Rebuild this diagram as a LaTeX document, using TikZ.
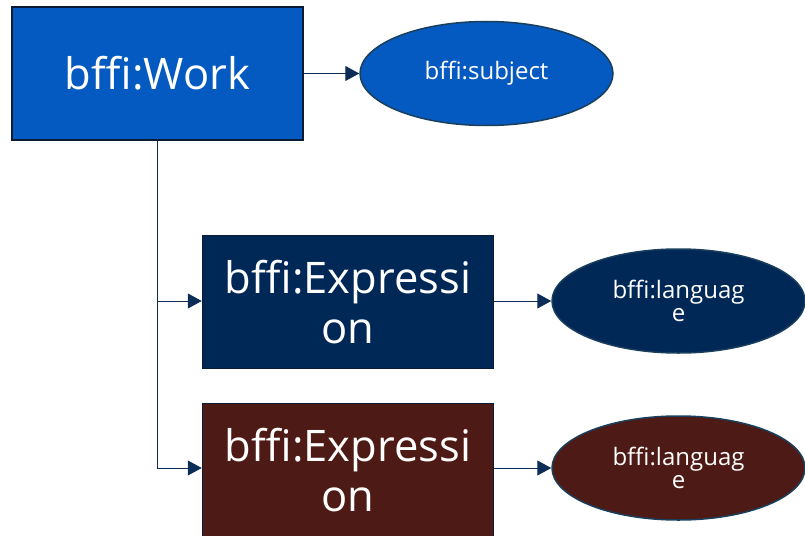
\documentclass[tikz,border=0pt]{standalone}
\usepackage{fontspec}
\setmainfont{Open Sans}
\usepackage{tikz}
\usetikzlibrary{arrows.meta}
\usetikzlibrary{shapes.geometric}

\definecolor{workblue}{HTML}{045AC0}
\definecolor{exprnavy}{HTML}{002856}
\definecolor{exprbrown}{HTML}{4E1A15}
\definecolor{rectline}{HTML}{0B1B33}
\definecolor{ovalline}{HTML}{1A3F5C}
\definecolor{linknavy}{HTML}{0C2D57}

\tikzset{
    classbox/.style={draw=rectline, line width=1.5pt, rectangle, text=white,
        minimum width=291pt, minimum height=133pt, align=center,
        font=\fontsize{43.5}{50}\selectfont},
    propoval/.style={draw=ovalline, line width=1.5pt, ellipse, text=white,
        minimum width=253pt, minimum height=104pt, inner sep=0pt, align=center,
        font=\fontsize{24}{23}\selectfont},
    link/.style={draw=linknavy, line width=1pt, -{Triangle[length=14pt,width=15pt]}},
}

\begin{document}
\begin{tikzpicture}[x=1pt, y=-1pt]
            \useasboundingbox (0,0) rectangle (805,535);
            \node[classbox, fill=workblue] (work) at (157.5,73.5) {bffi:Work};
            \node[propoval, fill=workblue] (subject) at (486.5,73.5) {bffi:subject};
            \node[classbox, fill=exprnavy] (exprone) at (348,302) {bffi:Expressi\\on};
            \node[propoval, fill=exprnavy] (langone) at (678.5,301) {bffi:languag\\e};
            \node[classbox, fill=exprbrown] (exprtwo) at (348,470) {bffi:Expressi\\on};
            \node[propoval, fill=exprbrown] (langtwo) at (678.5,468) {bffi:languag\\e};

            \draw[link] (work.east) -- (subject.west);
            \draw[link] (work.south) |- (exprone.west |- langone.west);
            \draw[link] (work.south) |- (exprtwo.west |- langtwo.west);
            \draw[link] (exprone.east |- langone.west) -- (langone.west);
            \draw[link] (exprtwo.east |- langtwo.west) -- (langtwo.west);
        \end{tikzpicture}
\end{document}
